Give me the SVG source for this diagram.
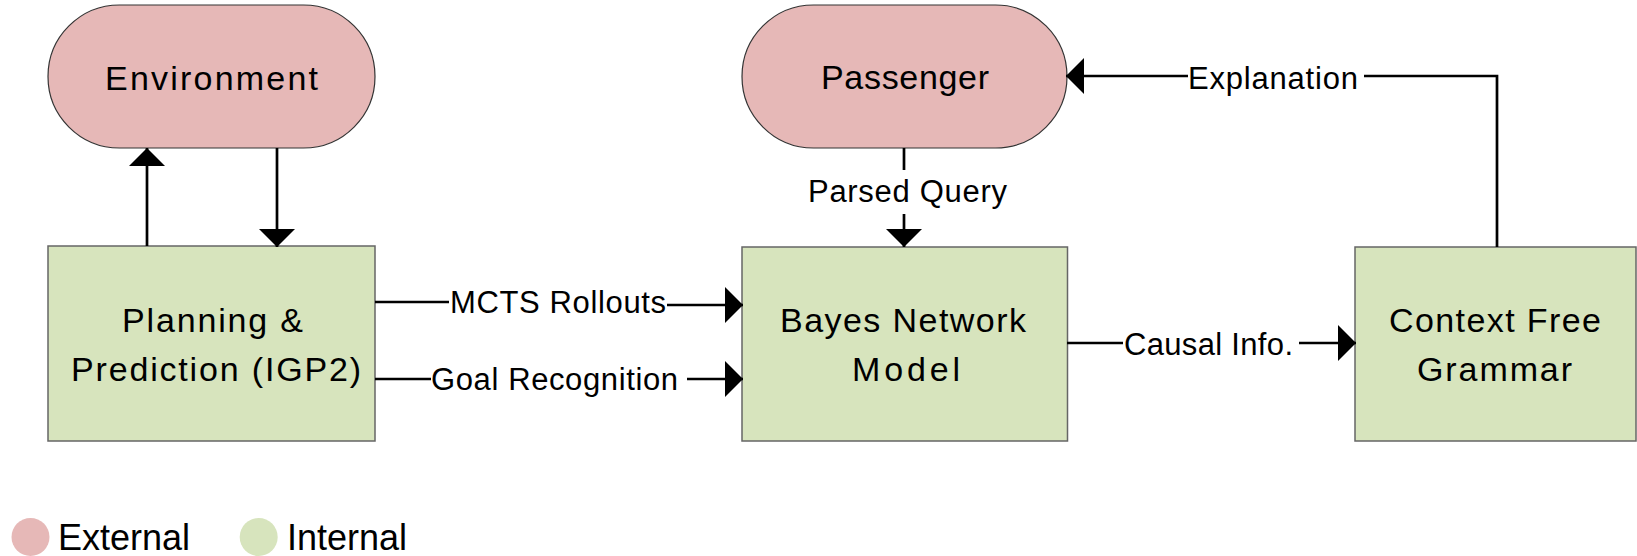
<svg xmlns="http://www.w3.org/2000/svg" width="1637" height="556" viewBox="0 0 1637 556">
  <defs>
    <style>
      .ext { fill: #E6B8B7; stroke: #333333; stroke-width: 1.2; }
      .int { fill: #D7E4BD; stroke: #666666; stroke-width: 1.5; }
      .node-text { font-family: "Liberation Sans", Arial, sans-serif; font-size: 34px; fill: #000000; }
      .label { font-family: "Liberation Sans", Arial, sans-serif; font-size: 31px; fill: #000000; }
      .legend-text { font-family: "Liberation Sans", Arial, sans-serif; font-size: 36px; fill: #000000; }
      .wire { fill: none; stroke: #000000; stroke-width: 2.7; }
    </style>
    <marker id="arrow" viewBox="0 0 18 36" refX="18" refY="18" markerWidth="18" markerHeight="36" markerUnits="userSpaceOnUse" orient="auto">
      <path d="M0,0 L18,18 L0,36 Z" fill="#000000"/>
    </marker>
  </defs>

  <rect width="1637" height="556" fill="#FFFFFF"/>

  <!-- nodes -->
  <g id="environment">
    <rect class="ext" x="48" y="5" width="327" height="143" rx="71.5" ry="71.5"/>
    <text class="node-text" x="105" y="90" textLength="213" lengthAdjust="spacing">Environment</text>
  </g>

  <g id="planning">
    <rect class="int" x="48" y="246" width="327" height="195"/>
    <text class="node-text" x="122" y="332" textLength="181" lengthAdjust="spacing">Planning &amp;</text>
    <text class="node-text" x="71" y="381" textLength="290" lengthAdjust="spacing">Prediction (IGP2)</text>
  </g>

  <g id="passenger">
    <rect class="ext" x="742" y="5" width="325" height="143" rx="71.5" ry="71.5"/>
    <text class="node-text" x="821" y="89" textLength="168" lengthAdjust="spacing">Passenger</text>
  </g>

  <g id="bayes-network">
    <rect class="int" x="742" y="247" width="325.5" height="194"/>
    <text class="node-text" x="780" y="332" textLength="246" lengthAdjust="spacing">Bayes Network</text>
    <text class="node-text" x="852" y="381" textLength="108" lengthAdjust="spacing">Model</text>
  </g>

  <g id="grammar">
    <rect class="int" x="1355" y="247" width="281" height="194"/>
    <text class="node-text" x="1389" y="332" textLength="212" lengthAdjust="spacing">Context Free</text>
    <text class="node-text" x="1417" y="381" textLength="155" lengthAdjust="spacing">Grammar</text>
  </g>

  <!-- connectors -->
  <g id="connectors">
    <line class="wire" x1="147" y1="246" x2="147" y2="148" marker-end="url(#arrow)"/>
    <line class="wire" x1="277" y1="148" x2="277" y2="247" marker-end="url(#arrow)"/>

    <line class="wire" x1="375" y1="302" x2="449" y2="302"/>
    <text class="label" x="450" y="313" textLength="216" lengthAdjust="spacing">MCTS Rollouts</text>
    <line class="wire" x1="667" y1="305" x2="743" y2="305" marker-end="url(#arrow)"/>

    <line class="wire" x1="375" y1="379" x2="431" y2="379"/>
    <text class="label" x="431" y="390" textLength="247" lengthAdjust="spacing">Goal Recognition</text>
    <line class="wire" x1="687" y1="379" x2="743" y2="379" marker-end="url(#arrow)"/>

    <line class="wire" x1="904" y1="148" x2="904" y2="170"/>
    <text class="label" x="808" y="202" textLength="199" lengthAdjust="spacing">Parsed Query</text>
    <line class="wire" x1="904" y1="214" x2="904" y2="247" marker-end="url(#arrow)"/>

    <line class="wire" x1="1067" y1="343" x2="1123" y2="343"/>
    <text class="label" x="1124" y="355" textLength="169" lengthAdjust="spacing">Causal Info.</text>
    <line class="wire" x1="1299" y1="343" x2="1356" y2="343" marker-end="url(#arrow)"/>

    <polyline class="wire" points="1497,247 1497,76 1364,76"/>
    <text class="label" x="1188" y="89" textLength="170" lengthAdjust="spacing">Explanation</text>
    <line class="wire" x1="1188" y1="76" x2="1066" y2="76" marker-end="url(#arrow)"/>
  </g>

  <!-- legend -->
  <g id="legend">
    <circle cx="30.5" cy="537" r="19" fill="#E6B8B7"/>
    <text class="legend-text" x="58" y="550">External</text>
    <circle cx="258.7" cy="537" r="19" fill="#D7E4BD"/>
    <text class="legend-text" x="287" y="550">Internal</text>
  </g>
</svg>
